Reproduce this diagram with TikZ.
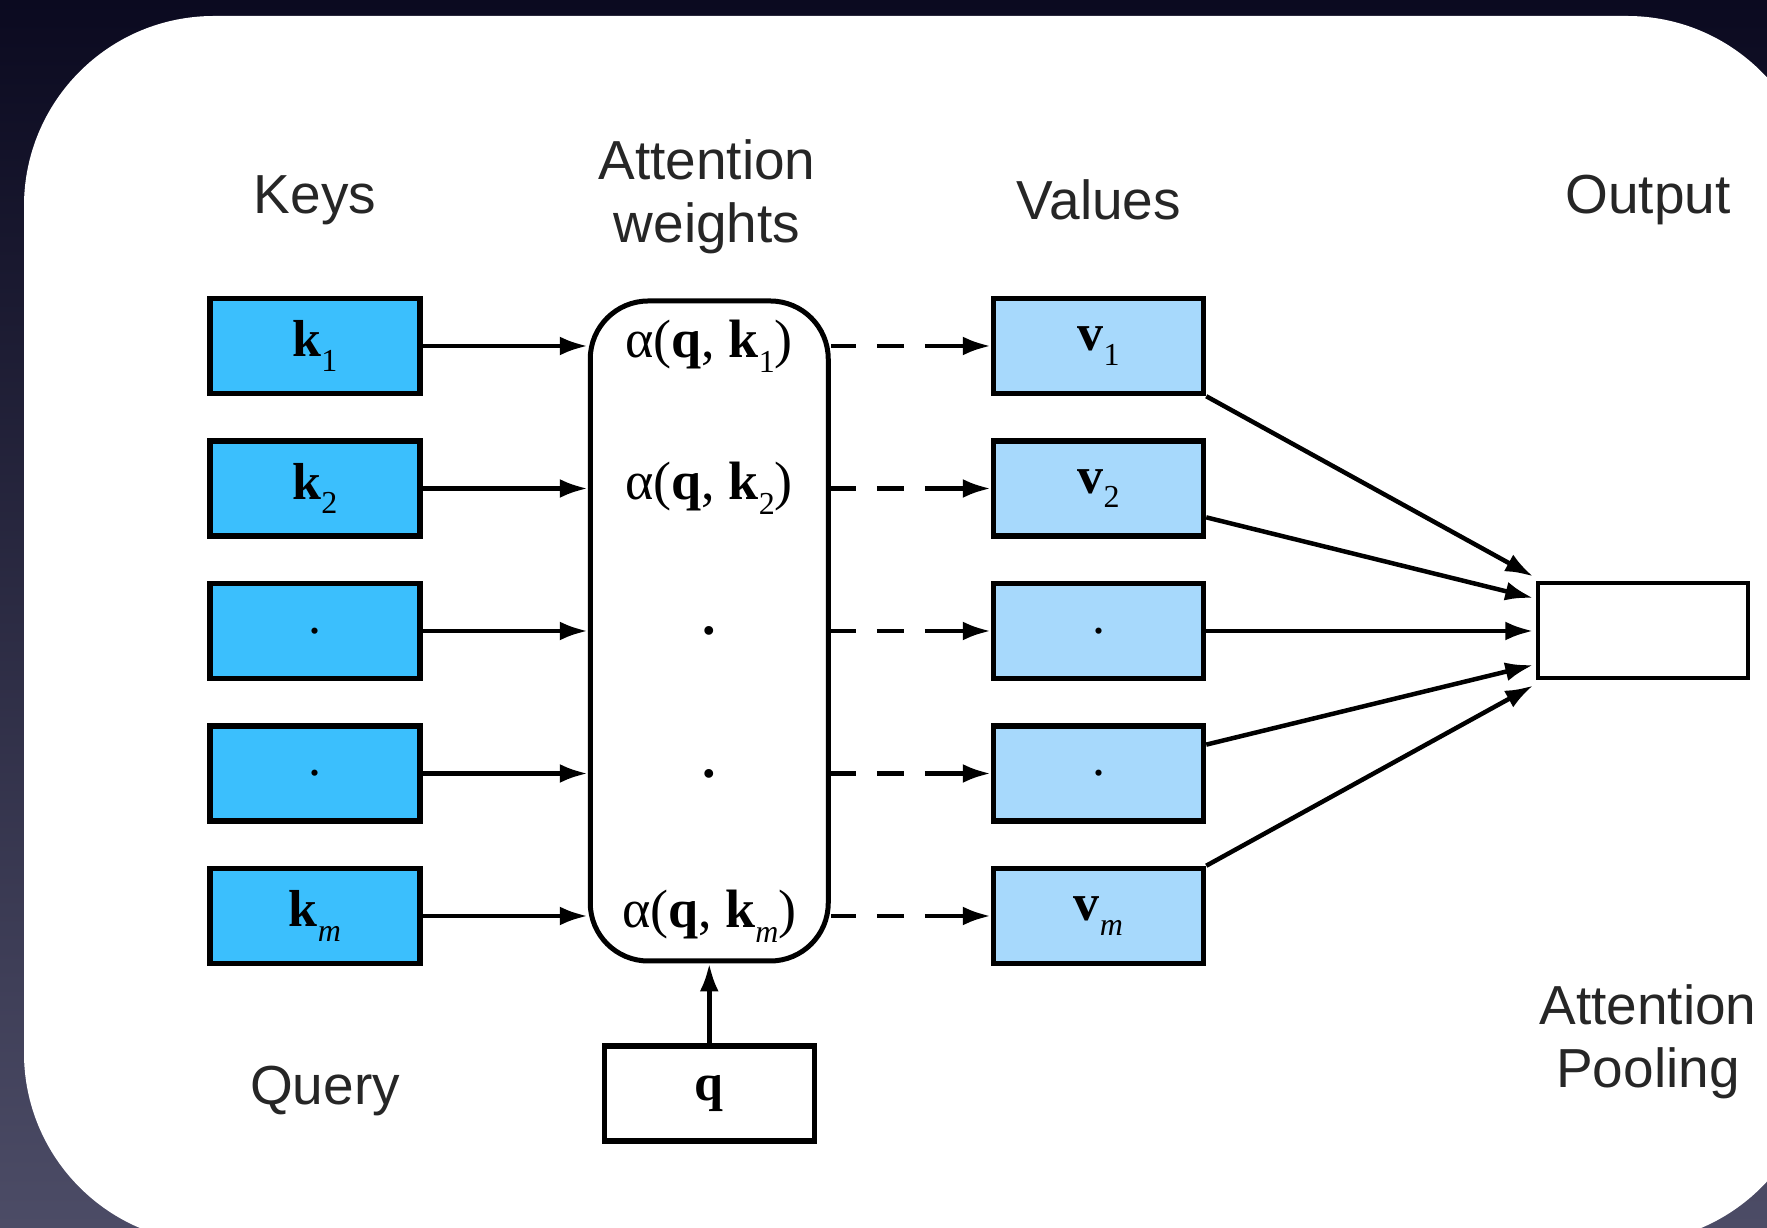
\documentclass[tikz,border=0pt]{standalone}
\usepackage{fontspec}
\setmainfont{Liberation Sans}
\newfontfamily\boxfont{Liberation Serif}
\usetikzlibrary{arrows.meta,positioning,calc}
\definecolor{keyblue}{HTML}{3BBFFD}
\definecolor{valblue}{HTML}{A7D9FC}
\definecolor{bgtop}{HTML}{0B0A20}
\definecolor{bgbottom}{HTML}{4C4C66}
\newcommand{\idx}[1]{\raisebox{-0.28em}{\fontsize{32}{32}\selectfont #1}}

\begin{document}
\begin{tikzpicture}[x=1pt, y=1pt,
  node distance=42pt,
  vecbox/.style={rectangle, draw, line width=5.5pt, minimum width=210pt, minimum height=95pt, font=\fontsize{52}{52}\selectfont\boxfont},
  keybox/.style={vecbox, fill=keyblue},
  valbox/.style={vecbox, fill=valblue},
  plainbox/.style={vecbox, fill=white},
  attbox/.style={rectangle, draw, rounded corners=58pt, line width=5pt, minimum width=238pt, minimum height=660pt},
  lbl/.style={font=\fontsize{55}{63}\selectfont, text=black!85, align=center},
  weight/.style={font=\fontsize{54}{54}\selectfont\boxfont},
  arrow/.style={-{Latex[length=28pt,width=19pt]}, line width=4.5pt},
  dasharrow/.style={arrow, dash pattern=on 25pt off 21pt on 27pt off 21pt on 100pt off 1pt}
]
    \useasboundingbox (0,0) rectangle (1767,1228);
    \clip (0,0) rectangle (1767,1228);
    % backdrop and card
    \shade[top color=bgtop, bottom color=bgbottom] (0,0) rectangle (1767,1228);
    \fill[white, rounded corners=190pt] (24,-15) rectangle (1817,1212);

    % keys
    \node[keybox] (k1) at (315,882) {\textbf{k}\idx{1}};
    \node[keybox, below=of k1] (k2) {\textbf{k}\idx{2}};
    \node[keybox, below=of k2] (k3) {.};
    \node[keybox, below=of k3] (k4) {.};
    \node[keybox, below=of k4] (km) {\textbf{k}\idx{\textit{m}}};

    % attention weights
    \node[attbox, right=165pt of k3] (att) {};
    \node[weight] (a1) at (att |- k1) {α(\textbf{q}, \textbf{k}\idx{1})};
    \node[weight] (a2) at (att |- k2) {α(\textbf{q}, \textbf{k}\idx{2})};
    \node[weight] (a3) at (att |- k3) {\textbf{.}};
    \node[weight] (a4) at (att |- k4) {\textbf{.}};
    \node[weight] (am) at (att |- km) {α(\textbf{q}, \textbf{k}\idx{\textit{m}})};

    % values
    \node[valbox, right=160pt of att] (v3) {.};
    \node[valbox, above=of v3] (v2) {\textbf{v}\idx{2}};
    \node[valbox, above=of v2] (v1) {\textbf{v}\idx{1}};
    \node[valbox, below=of v3] (v4) {.};
    \node[valbox, below=of v4] (vm) {\textbf{v}\idx{\textit{m}}};

    % output and query
    \node[plainbox, line width=4pt, right=330pt of v3] (out) {};
    \node[plainbox, below=80pt of att] (q) {\textbf{q}};

    % labels
    \node[lbl] (keys) at (315,1028) {Keys};
    \node[lbl] (attw) at (707,1031) {Attention\\weights};
    \node[lbl] (vals) at (1099,1028) {Values};
    \node[lbl] (outl) at (1648,1028) {Output};
    \node[lbl] (query) at (325,137) {Query};
    \node[lbl] (pool) at (1648,186) {Attention\\Pooling};

    % connectors
    \foreach \i in {1,2,3,4,m} {
        \draw[arrow] (k\i) -- (k\i -| att.west);
        \draw[dasharrow] (k\i -| att.east) -- (v\i);
    }
    \draw[arrow] (v1.south east) -- ($(out.north west)+(-3,5)$);
    \draw[arrow] (v2.-15) -- ($(out.west)+(-3,33)$);
    \draw[arrow] (v3) -- ($(out.west)+(-3,0)$);
    \draw[arrow] (v4.15) -- ($(out.west)+(-3,-34)$);
    \draw[arrow] (vm.north east) -- ($(out.south west)+(-3,-5)$);
    \draw[arrow] (q) -- (att);
\end{tikzpicture}
\end{document}
